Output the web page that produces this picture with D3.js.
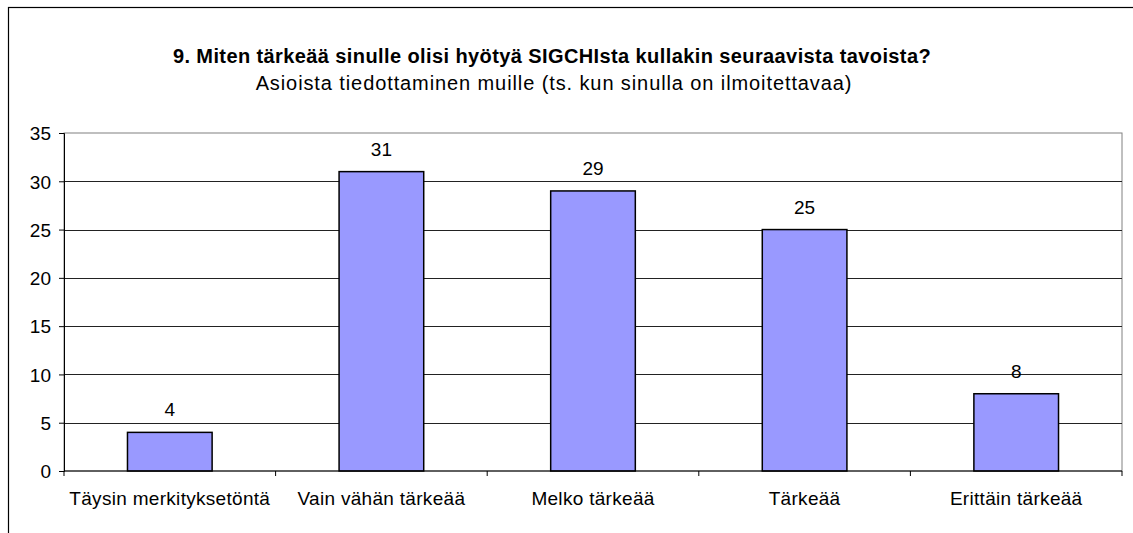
<!DOCTYPE html>
<html>
<head>
<meta charset="utf-8">
<script src="https://cdn.jsdelivr.net/npm/d3@7"></script>
<style>
  body { margin: 0; background: white; }
  text { font-family: "Liberation Sans", Arial, sans-serif; fill: black; }
</style>
</head>
<body>
<div id="chart"></div>
<script>
var categories = ["Täysin merkityksetöntä", "Vain vähän tärkeää", "Melko tärkeää", "Tärkeää", "Erittäin tärkeää"];
var values = [4, 31, 29, 25, 8];
var yTicks = [0, 5, 10, 15, 20, 25, 30, 35];
var title = "9. Miten tärkeää sinulle olisi hyötyä SIGCHIsta kullakin seuraavista tavoista?";
var subtitle = "Asioista tiedottaminen muille (ts. kun sinulla on ilmoitettavaa)";

var width = 1133, height = 533;
var margin = {left: 64, right: 11, top: 133, bottom: 62};

var svg = d3.select("#chart")
    .append("svg")
    .attr("width", width)
    .attr("height", height);

// outer frame (runs off the right and bottom edges)
svg.append("rect")
    .attr("x", 8.5)
    .attr("y", 7.5)
    .attr("width", width)
    .attr("height", height)
    .attr("fill", "white")
    .attr("stroke", "black")
    .attr("stroke-width", 1.2);

svg.append("text")
    .attr("x", 552)
    .attr("y", 62.5)
    .attr("text-anchor", "middle")
    .style("font-size", "20px")
    .style("font-weight", "bold")
    .style("letter-spacing", "0.4px")
    .text(title);

svg.append("text")
    .attr("x", 554)
    .attr("y", 90)
    .attr("text-anchor", "middle")
    .style("font-size", "20px")
    .style("letter-spacing", "0.9px")
    .text(subtitle);

var x = d3.scaleBand()
    .domain(categories)
    .range([margin.left, width - margin.right])
    .paddingInner(0.6)
    .paddingOuter(0.3);

var y = d3.scaleLinear()
    .domain([0, 35])
    .range([height - margin.bottom, margin.top]);

// plot area border
svg.append("rect")
    .attr("x", margin.left)
    .attr("y", margin.top)
    .attr("width", width - margin.right - margin.left)
    .attr("height", height - margin.bottom - margin.top)
    .attr("fill", "white")
    .attr("stroke", "#808080")
    .attr("stroke-width", 1);

// gridlines
svg.append("g")
    .selectAll("line")
    .data(yTicks.filter(function(d) { return d > 0 && d < 35; }))
    .enter().append("line")
    .attr("x1", margin.left)
    .attr("x2", width - margin.right)
    .attr("y1", function(d) { return Math.round(y(d)) + 0.5; })
    .attr("y2", function(d) { return Math.round(y(d)) + 0.5; })
    .attr("stroke", "#222")
    .attr("stroke-width", 1);

// y axis
var yAxis = svg.append("g")
    .attr("transform", "translate(" + margin.left + ",0)")
    .call(d3.axisLeft(y).tickValues(yTicks).tickSize(5).tickPadding(8));
yAxis.selectAll("text")
    .style("font-size", "19px")
    .style("font-family", "Liberation Sans, Arial, sans-serif")
    .attr("dy", "0.36em");
yAxis.selectAll("line").attr("stroke", "black");
yAxis.select(".domain").attr("stroke", "black");

// bars
svg.append("g")
    .selectAll("rect")
    .data(values)
    .enter().append("rect")
    .attr("x", function(d, i) { return x(categories[i]); })
    .attr("y", function(d) { return y(d); })
    .attr("width", x.bandwidth())
    .attr("height", function(d) { return y(0) - y(d); })
    .attr("fill", "#9999FF")
    .attr("stroke", "black")
    .attr("stroke-width", 1.5);

// value labels
svg.append("g")
    .selectAll("text")
    .data(values)
    .enter().append("text")
    .attr("x", function(d, i) { return x(categories[i]) + x.bandwidth() / 2; })
    .attr("y", function(d) { return y(d) - 16; })
    .attr("text-anchor", "middle")
    .style("font-size", "19px")
    .text(function(d) { return d; });

// x axis with ticks between categories
var xAxis = svg.append("g")
    .attr("transform", "translate(0," + y(0) + ")");
xAxis.append("line")
    .attr("x1", margin.left)
    .attr("x2", width - margin.right)
    .attr("stroke", "black")
    .attr("stroke-width", 1.2);
xAxis.selectAll(".tk")
    .data(d3.range(categories.length + 1))
    .enter().append("line")
    .attr("class", "tk")
    .attr("x1", function(i) { return margin.left + i * (width - margin.right - margin.left) / categories.length; })
    .attr("x2", function(i) { return margin.left + i * (width - margin.right - margin.left) / categories.length; })
    .attr("y1", 0)
    .attr("y2", 5)
    .attr("stroke", "black");
xAxis.selectAll(".lbl")
    .data(categories)
    .enter().append("text")
    .attr("class", "lbl")
    .attr("x", function(d) { return x(d) + x.bandwidth() / 2; })
    .attr("y", 34)
    .attr("text-anchor", "middle")
    .style("font-size", "19px")
    .style("letter-spacing", "0.3px")
    .text(function(d) { return d; });
</script>
</body>
</html>
